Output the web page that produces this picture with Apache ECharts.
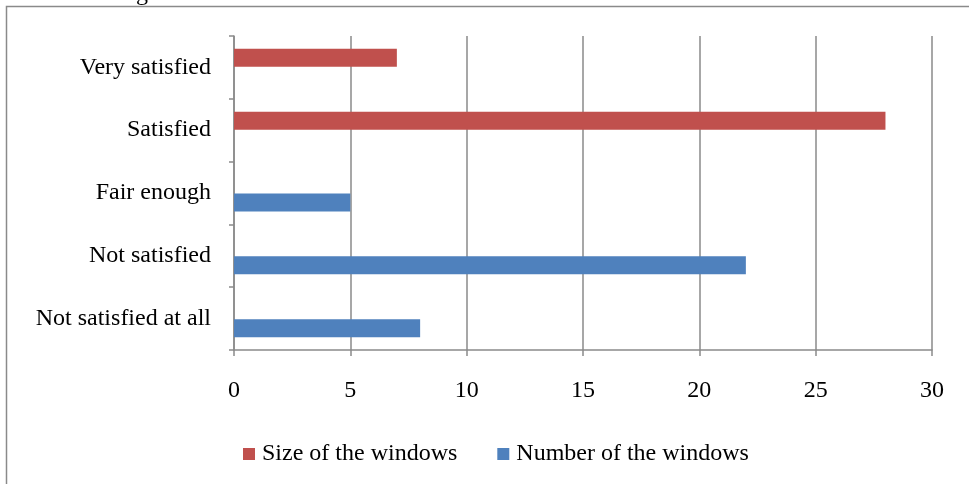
<!DOCTYPE html>
<html>
<head>
<meta charset="utf-8">
<title>Satisfaction with the windows</title>
<script src="https://cdn.jsdelivr.net/npm/echarts@6/dist/echarts.min.js"></script>
<style>
  html, body { margin: 0; padding: 0; background: #ffffff; }
  #chart { width: 969px; height: 484px; }
</style>
</head>
<body>
<div id="chart"></div>
<script>
// Satisfaction levels, bottom to top on the category axis
const categories = ['Not satisfied at all', 'Not satisfied', 'Fair enough', 'Satisfied', 'Very satisfied'];
// Responses per level for each aspect (null = no bar)
const sizeOfWindows = [null, null, null, 28, 7];
const numberOfWindows = [8, 22, 5, null, null];
const seriesNames = ['Size of the windows', 'Number of the windows'];
const xTicks = { min: 0, max: 30, interval: 5 };

const FONT = '"Liberation Serif", "Times New Roman", serif';
const GRAY = '#8a8a8a';

const chart = echarts.init(document.getElementById('chart'), null, { renderer: 'canvas' });

chart.setOption({
  backgroundColor: '#ffffff',
  animation: false,
  textStyle: { fontFamily: FONT },
  grid: { left: 234, right: 37, top: 36, bottom: 134, containLabel: false },
  legend: {
    data: seriesNames,
    left: 238,
    top: 437,
    itemWidth: 12,
    itemHeight: 12,
    itemGap: 40,
    icon: 'rect',
    textStyle: { fontFamily: FONT, fontSize: 24, color: '#000000', padding: [0, 0, 0, 2] }
  },
  xAxis: {
    type: 'value',
    min: xTicks.min,
    max: xTicks.max,
    interval: xTicks.interval,
    axisLine: { show: true, lineStyle: { color: GRAY, width: 1.5 } },
    axisTick: { show: true, length: 6, lineStyle: { color: GRAY, width: 1.5 } },
    splitLine: { show: true, lineStyle: { color: GRAY, width: 1.5 } },
    axisLabel: { fontFamily: FONT, fontSize: 24, color: '#000000', margin: 29 }
  },
  yAxis: {
    type: 'category',
    data: categories,
    axisLine: { show: true, lineStyle: { color: GRAY, width: 1.5 } },
    axisTick: { show: true, length: 5, lineStyle: { color: GRAY, width: 1.5 } },
    splitLine: { show: false },
    axisLabel: {
      fontFamily: FONT, fontSize: 24, color: '#000000', margin: 23,
      lineHeight: 24, padding: [6, 0, 0, 0]
    }
  },
  series: [
    {
      name: seriesNames[0],
      type: 'bar',
      data: sizeOfWindows,
      barWidth: 18,
      barGap: '6%',
      itemStyle: { color: '#C0504D' }
    },
    {
      name: seriesNames[1],
      type: 'bar',
      data: numberOfWindows,
      barWidth: 18,
      barGap: '6%',
      itemStyle: { color: '#4F81BD' }
    }
  ],
  graphic: [
    {
      type: 'rect',
      silent: true,
      shape: { x: 6.5, y: 6.5, width: 980, height: 500 },
      style: { fill: 'none', stroke: GRAY, lineWidth: 1.5 }
    },
    {
      type: 'text',
      silent: true,
      left: 136,
      top: -18,
      style: { text: 'g', font: '24px ' + FONT, fill: '#000000' }
    }
  ]
});
</script>
</body>
</html>
